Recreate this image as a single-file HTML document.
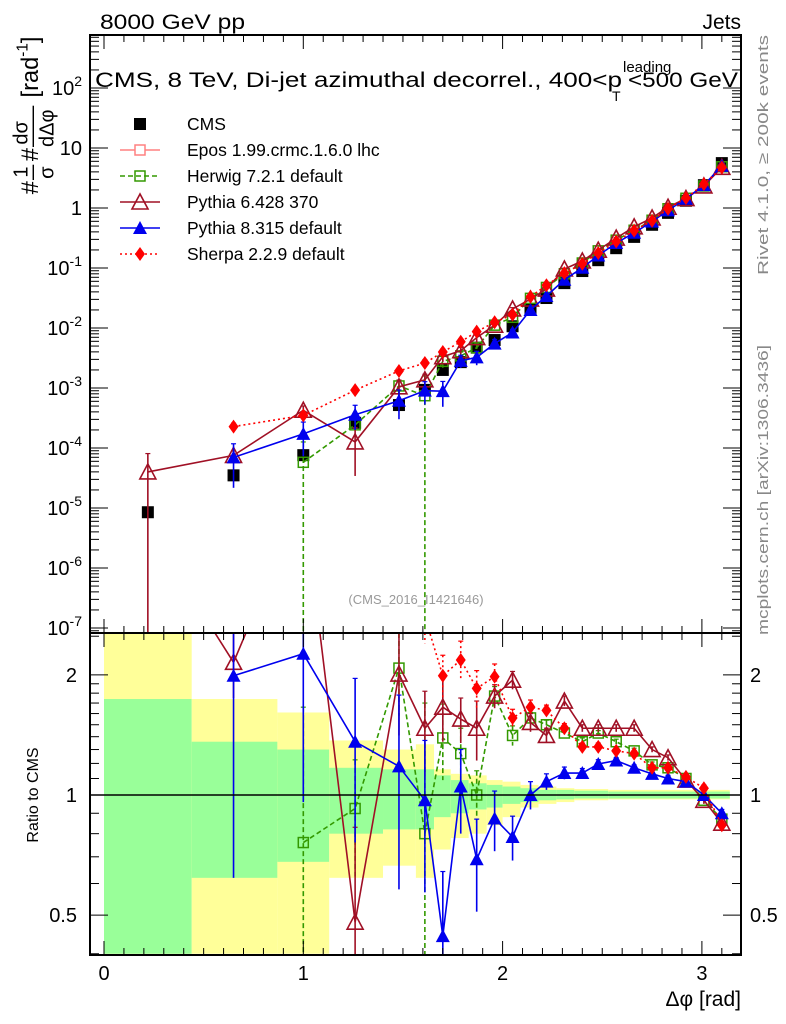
<!DOCTYPE html>
<html><head><meta charset="utf-8"><style>
html,body{margin:0;padding:0;background:#fff;overflow:hidden;width:786px;height:1024px;}
svg{display:block;font-family:"Liberation Sans",sans-serif;}
</style></head><body>
<svg id="c" width="786" height="1024" viewBox="0 0 786 1024" xmlns="http://www.w3.org/2000/svg">
<defs>
<clipPath id="cm"><rect x="90" y="35" width="651" height="598"/></clipPath>
<clipPath id="cr"><rect x="90" y="633" width="651" height="322"/></clipPath>
</defs>
<g id="bands" clip-path="url(#cr)"></g>
<g id="grid"></g>
<g id="mainMarks" clip-path="url(#cm)"></g>
<g id="ratioMarks" clip-path="url(#cr)"></g>
<g id="frame"></g>
<text x="100" y="29" font-size="21" textLength="145" lengthAdjust="spacingAndGlyphs">8000 GeV pp</text>
<text x="741" y="29" font-size="21" text-anchor="end">Jets</text>
<text x="95" y="87" font-size="21" textLength="527" lengthAdjust="spacingAndGlyphs">CMS, 8 TeV, Di-jet azimuthal decorrel., 400&lt;p</text>
<text x="623" y="72" font-size="15">leading</text>
<text x="612" y="101" font-size="14">T</text>
<text x="628" y="87" font-size="21" textLength="110" lengthAdjust="spacingAndGlyphs">&lt;500 GeV</text>
<text transform="translate(768,155) rotate(-90)" font-size="15" fill="#888" text-anchor="middle" textLength="240" lengthAdjust="spacingAndGlyphs">Rivet 4.1.0, ≥ 200k events</text>
<text transform="translate(768,490) rotate(-90)" font-size="15" fill="#888" text-anchor="middle" textLength="290" lengthAdjust="spacingAndGlyphs">mcplots.cern.ch [arXiv:1306.3436]</text>
<text x="416" y="604" font-size="13" fill="#999" text-anchor="middle">(CMS_2016_I1421646)</text>
<text x="741" y="1006" font-size="21" text-anchor="end">Δφ [rad]</text>
<text transform="translate(38,795) rotate(-90)" font-size="16" text-anchor="middle">Ratio to CMS</text>
<g transform="translate(38,-30) rotate(-90) scale(1.18)">
<text x="-190" y="0" font-size="20">#</text>
<text x="-176" y="-9" font-size="17">1</text>
<line x1="-178" y1="-4" x2="-165" y2="-4" stroke="#000" stroke-width="1.2"/>
<text x="-177" y="13" font-size="17">σ</text>
<text x="-162" y="0" font-size="20">#</text>
<text x="-148" y="-9" font-size="17">dσ</text>
<line x1="-150" y1="-4" x2="-115" y2="-4" stroke="#000" stroke-width="1.2"/>
<text x="-150" y="13" font-size="17">dΔφ</text>
<text x="-108" y="0" font-size="20">[rad<tspan font-size="13" dy="-9">-1</tspan><tspan dy="9">]</tspan></text>
</g>
<g id="legend"></g>
</svg>
<script>
const xs=[0.22,0.65,1.0,1.26,1.48,1.61,1.70,1.79,1.87,1.96,2.05,2.14,2.22,2.31,2.40,2.48,2.57,2.66,2.75,2.83,2.92,3.01,3.10];
const cms=[8.5e-6,3.5e-5,7.6e-5,2.63e-4,5.2e-4,9.3e-4,2.0e-3,2.7e-3,4.7e-3,6.3e-3,1.07e-2,2.0e-2,3.16e-2,5.6e-2,8.9e-2,0.135,0.214,0.33,0.525,0.83,1.32,2.4,5.6];
const herwigR=[null,null,0.76,0.925,2.08,0.80,1.39,1.27,1.0,1.77,1.41,1.56,1.50,1.43,1.36,1.43,1.36,1.29,1.19,1.17,1.10,0.97,0.87];
const herwigE=[0,0,0.9,0.3,0.5,0.9,0.3,0.2,0.15,0.1,0.08,0.05,0.04,0.03,0.03,0.02,0.02,0.02,0.02,0.02,0.02,0.02,0.02];
const py6R=[4.7,2.15,5.6,0.48,2.01,1.47,1.66,1.55,1.47,1.77,1.94,1.52,1.41,1.72,1.47,1.47,1.47,1.47,1.30,1.24,1.09,0.97,0.85];
const py6E=[4.8,0.4,1.0,0.35,0.6,0.35,0.3,0.2,0.25,0.12,0.1,0.08,0.06,0.05,0.03,0.03,0.03,0.03,0.02,0.02,0.02,0.02,0.02];
const py8R=[null,1.99,2.26,1.36,1.18,0.97,0.443,1.05,0.69,0.873,0.785,1.0,1.08,1.135,1.135,1.196,1.22,1.17,1.13,1.10,1.08,1.0,0.90];
const py8E=[0,1.37,1.3,0.6,0.6,0.4,0.2,0.25,0.18,0.15,0.1,0.08,0.05,0.04,0.03,0.03,0.02,0.02,0.02,0.02,0.02,0.02,0.02];
const sherpaR=[null,6.5,4.6,3.5,3.7,2.8,1.99,2.18,1.85,1.98,1.56,1.66,1.63,1.47,1.32,1.32,1.29,1.27,1.17,1.17,1.11,1.04,0.84];
const sherpaE=[0,0.9,0.6,0.4,0.4,0.4,0.25,0.25,0.2,0.15,0.08,0.07,0.05,0.04,0.03,0.03,0.02,0.02,0.02,0.02,0.02,0.02,0.02];
const bandEdges=[0,0.44,0.87,1.13,1.40,1.565,1.656,1.74,1.83,1.92,2.0,2.09,2.18,2.27,2.36,2.53,3.14];
const yellowHi=[3,1.74,1.61,1.37,1.30,1.34,1.16,1.13,1.12,1.09,1.08,1.06,1.05,1.04,1.035,1.03];
const greenHi=[1.74,1.36,1.30,1.17,1.16,1.16,1.12,1.09,1.07,1.06,1.05,1.04,1.03,1.03,1.025,1.02];
const greenLo=[0.4,0.62,0.68,0.80,0.82,0.82,0.88,0.90,0.92,0.93,0.95,0.96,0.97,0.975,0.98,0.98];
const yellowLo=[0.4,0.4,0.4,0.62,0.665,0.62,0.73,0.78,0.80,0.84,0.88,0.93,0.95,0.96,0.97,0.975];
const mainTicks=[2,1,0,-1,-2,-3,-4,-5,-6,-7];
const ratioTicks=[0.5,1,2];
const xTicks=[0,1,2,3];

const NS="http://www.w3.org/2000/svg";
const X=v=>104+v*199.3;
const YM=v=>208-60*Math.log10(v);
const YR=r=>795-399*Math.log10(r);
function mk(parent,tag,attrs){const e=document.createElementNS(NS,tag);for(const k in attrs)e.setAttribute(k,attrs[k]);parent.appendChild(e);return e;}
const G=id=>document.getElementById(id);

const bands=G('bands');
for(let i=0;i<yellowHi.length;i++){
  const x1=X(bandEdges[i]),x2=X(bandEdges[i+1]);
  const yt=Math.max(633,YR(yellowHi[i])),yb=Math.min(955,YR(yellowLo[i]));
  const y=mk(bands,'rect',{x:x1,y:yt,width:x2-x1,height:yb-yt,fill:'#ffff99'});
  
  
  const gt=Math.max(633,YR(greenHi[i])),gb=Math.min(955,YR(greenLo[i]));
  const g=mk(bands,'rect',{x:x1,y:gt,width:x2-x1,height:gb-gt,fill:'#99ff99'});
  
  
}

const fr=G('frame');
mk(fr,'rect',{x:90,y:35,width:651,height:598,fill:'none',stroke:'#000','stroke-width':2});
mk(fr,'rect',{x:90,y:633,width:651,height:322,fill:'none',stroke:'#000','stroke-width':2});
mk(fr,'line',{x1:90,y1:795,x2:741,y2:795,stroke:'#000','stroke-width':1.5});
for(let d=-8;d<=2;d++){for(let m=1;m<10;m++){const v=m*Math.pow(10,d);const y=YM(v);if(y<35||y>633)continue;const L=m==1?18:9;
  mk(fr,'line',{x1:90,y1:y,x2:90+L,y2:y,stroke:'#000'});mk(fr,'line',{x1:741,y1:y,x2:741-L,y2:y,stroke:'#000'});}}
mainTicks.forEach(p=>{const y=YM(Math.pow(10,p));
  const t=mk(fr,'text',{x:82,y:y+7,'font-size':20,'text-anchor':'end'});
  
  
  if(p==0)t.textContent='1';else if(p==1)t.textContent='10';else{t.textContent='10';const s=mk(t,'tspan',{'font-size':14,dy:-9});s.textContent=String(p);}
});
[0.4,0.5,0.6,0.7,0.8,0.9,1,1.1,1.2,1.3,1.4,1.5,1.6,1.7,1.8,1.9,2,2.5].forEach(r=>{const y=YR(r);if(y<633||y>955)return;const L=(r==0.5||r==1||r==2)?18:9;
  mk(fr,'line',{x1:90,y1:y,x2:90+L,y2:y,stroke:'#000'});mk(fr,'line',{x1:741,y1:y,x2:741-L,y2:y,stroke:'#000'});});
ratioTicks.forEach(r=>{const y=YR(r);
  const t=mk(fr,'text',{x:77,y:y+7,'font-size':20,'text-anchor':'end'});t.textContent=String(r);
  
  
  const t2=mk(fr,'text',{x:750,y:y+7,'font-size':20});t2.textContent=String(r);
  
  
});
for(let k=-0.4;k<=3.25;k+=0.1){const v=Math.round(k*10)/10;const x=X(v);if(x<91||x>740)continue;const maj=Math.abs(v-Math.round(v))<1e-6;const L=maj?14:7;
  [35,633].forEach(y0=>mk(fr,'line',{x1:x,y1:y0,x2:x,y2:y0+L,stroke:'#000'}));
  [633,955].forEach(y0=>mk(fr,'line',{x1:x,y1:y0,x2:x,y2:y0-L,stroke:'#000'}));}
xTicks.forEach(v=>{const t=mk(fr,'text',{x:X(v),y:980,'font-size':20,'text-anchor':'middle'});t.textContent=String(v);
  
  });

function marker(g,type,x,y,col){
  const s=6;
  if(type=='sq') mk(g,'rect',{x:x-s,y:y-s,width:2*s,height:2*s,fill:'#000'});
  else if(type=='osq') mk(g,'rect',{x:x-s+1,y:y-s+1,width:2*s-2,height:2*s-2,fill:'none',stroke:col,'stroke-width':1.5});
  else if(type=='otri') mk(g,'polygon',{points:`${x},${y-8} ${x-8},${y+7} ${x+8},${y+7}`,fill:'none',stroke:col,'stroke-width':1.6});
  else if(type=='tri') mk(g,'polygon',{points:`${x},${y-7} ${x-7},${y+6} ${x+7},${y+6}`,fill:col});
  else if(type=='dia') mk(g,'polygon',{points:`${x},${y-7} ${x-5},${y} ${x},${y+7} ${x+5},${y}`,fill:col});
  else if(type=='cross'){mk(g,'rect',{x:x-5,y:y-5,width:10,height:10,fill:'#fff',stroke:col,'stroke-width':1.5});}
}
const series=[
 {name:'herwig',R:herwigR,E:herwigE,col:'#339900',dash:'5,3',m:'osq'},
 {name:'pythia6',R:py6R,E:py6E,col:'#a01025',dash:'',m:'otri'},
 {name:'pythia8',R:py8R,E:py8E,col:'#0000ee',dash:'',m:'tri'},
 {name:'sherpa',R:sherpaR,E:sherpaE,col:'#ff0000',dash:'2,3',m:'dia'}
];
const MM=G('mainMarks'),RM=G('ratioMarks');
cms.forEach((v,i)=>{const g=mk(MM,'g',{});
  
  
  marker(g,'sq',X(xs[i]),YM(v),'#000');});
series.forEach(s=>{
  ['main','ratio'].forEach(panel=>{
    const par=panel=='main'?MM:RM;
    const top=panel=='main'?35:633, bot=panel=='main'?633:955;
    const g=mk(par,'g',{});
    
    
    const raw=(i,r)=>panel=='main'?YM(Math.max(cms[i]*r,1e-9)):YR(Math.max(r,0.01));
    const pts=[];
    s.R.forEach((r,i)=>{if(r==null)return;pts.push(X(xs[i])+','+raw(i,r));});
    const ln=mk(g,'polyline',{points:pts.join(' '),fill:'none',stroke:s.col,'stroke-width':1.6});
    if(s.dash)ln.setAttribute('stroke-dasharray',s.dash);
    s.R.forEach((r,i)=>{if(r==null)return;const x=X(xs[i]);
      if(!(panel=='ratio'&&r>4.5)){
        const hi=Math.max(top,raw(i,r+s.E[i]));const lo=r-s.E[i]>0?Math.min(bot,raw(i,r-s.E[i])):bot;
        const e=mk(g,'line',{x1:x,y1:hi,x2:x,y2:lo,stroke:s.col,'stroke-width':1.6});
        if(s.dash)e.setAttribute('stroke-dasharray',s.dash);
        mk(g,'line',{x1:x-2.5,y1:hi,x2:x+2.5,y2:hi,stroke:s.col,'stroke-width':1.2});
      }
      const ym=raw(i,r);
      if(ym>top-10&&ym<bot+10)marker(g,s.m,x,ym,s.col);});
  });
});
const leg=G('legend');
const entries=[['CMS','sq','#000',''],['Epos 1.99.crmc.1.6.0 lhc','cross','#ff8080',''],['Herwig 7.2.1 default','osq','#339900','5,3'],['Pythia 6.428 370','otri','#a01025',''],['Pythia 8.315 default','tri','#0000ee',''],['Sherpa 2.2.9 default','dia','#ff0000','2,3']];
entries.forEach((e,k)=>{const y=124+k*26;const g=mk(leg,'g',{});
  
  
  if(k>0){const l=mk(g,'line',{x1:120,y1:y,x2:160,y2:y,stroke:e[2],'stroke-width':1.6});if(e[3])l.setAttribute('stroke-dasharray',e[3]);}
  marker(g,e[1],140,y,e[2]);
  const t=mk(g,'text',{x:187,y:y+6,'font-size':17.5});t.textContent=e[0];});
</script>
</body></html>
